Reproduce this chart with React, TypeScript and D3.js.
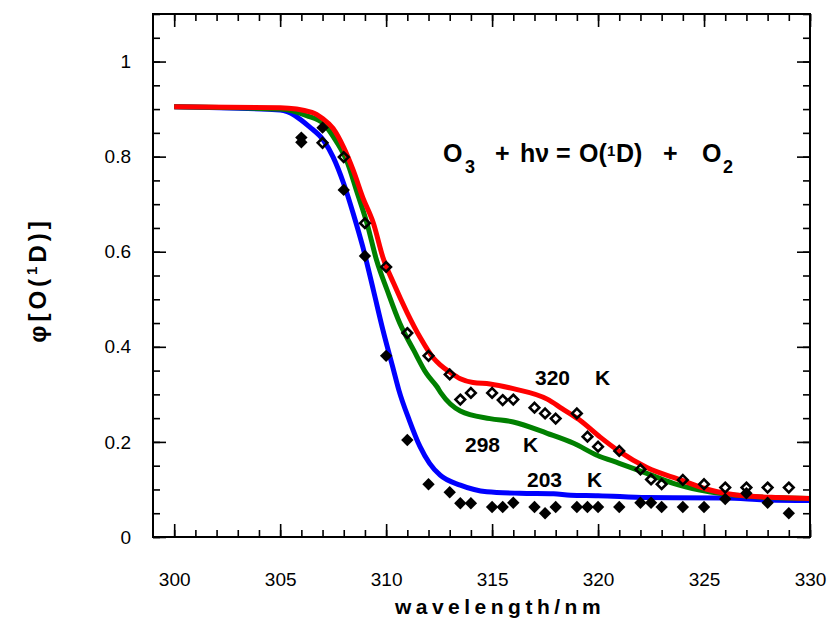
import React, { useEffect, useRef } from 'react';
import * as d3 from 'd3';

// quantum yield curves (model), wavelength in nm
const redX = [300, 305, 306.5, 307, 307.5, 308, 308.45, 308.9, 309.4, 309.85, 310.35, 311, 311.6, 312.2, 312.55, 313, 313.5, 314.1, 314.9, 316, 317.6, 318.3, 319.1, 320.1, 321, 322.3, 323.9, 325.1, 326.1, 327.1, 328.5, 330];
const redY = [0.905, 0.903, 0.893, 0.88, 0.859, 0.819, 0.771, 0.714, 0.66, 0.588, 0.534, 0.471, 0.42, 0.378, 0.362, 0.347, 0.333, 0.325, 0.322, 0.312, 0.29, 0.27, 0.247, 0.21, 0.18, 0.146, 0.12, 0.101, 0.091, 0.086, 0.083, 0.081];

const greenX = [300, 305, 306.25, 307.05, 307.65, 308.15, 308.6, 309.1, 309.55, 310.05, 310.65, 311.3, 311.9, 312.4, 312.6, 313.5, 314.9, 316, 317.6, 318.85, 319.95, 321, 322.3, 323.55, 324.8, 325.9, 327, 328, 330];
const greenY = [0.905, 0.9, 0.886, 0.869, 0.832, 0.79, 0.729, 0.659, 0.582, 0.519, 0.449, 0.393, 0.344, 0.316, 0.302, 0.265, 0.249, 0.242, 0.218, 0.197, 0.172, 0.155, 0.134, 0.113, 0.099, 0.091, 0.086, 0.083, 0.081];

const blueX = [300, 305, 306.4, 307.05, 307.5, 308, 308.45, 308.9, 309.4, 309.85, 310.35, 310.6, 311.1, 311.6, 312.05, 312.55, 313.5, 314.75, 316.3, 317.9, 318.7, 320, 322.3, 326, 328, 330];
const blueY = [0.905, 0.898, 0.862, 0.834, 0.799, 0.743, 0.68, 0.61, 0.519, 0.435, 0.351, 0.309, 0.245, 0.19, 0.155, 0.13, 0.109, 0.095, 0.092, 0.091, 0.088, 0.087, 0.083, 0.082, 0.078, 0.077];

// measurements: open diamonds and filled diamonds
const openX = [307, 308, 309, 310, 311, 312, 313, 313.5, 314, 315, 315.5, 316, 317, 317.5, 318, 319, 319.5, 320, 321, 322, 322.5, 323, 324, 325, 326, 327, 328, 329];
const openY = [0.829, 0.799, 0.66, 0.568, 0.429, 0.381, 0.342, 0.289, 0.303, 0.303, 0.288, 0.289, 0.272, 0.26, 0.249, 0.26, 0.211, 0.19, 0.181, 0.142, 0.121, 0.111, 0.12, 0.111, 0.104, 0.104, 0.104, 0.104];

const filledX = [306, 306, 307, 308, 309, 310, 311, 312, 313, 313.5, 314, 315, 315.5, 316, 317, 317.5, 318, 319, 319.5, 320, 321, 322, 322.5, 323, 324, 325, 326, 327, 328, 329];
const filledY = [0.84, 0.83, 0.861, 0.73, 0.591, 0.381, 0.204, 0.111, 0.094, 0.071, 0.071, 0.063, 0.063, 0.072, 0.063, 0.05, 0.063, 0.063, 0.063, 0.063, 0.063, 0.072, 0.072, 0.063, 0.063, 0.063, 0.08, 0.092, 0.072, 0.05];

const xMajor = [300, 305, 310, 315, 320, 325, 330];
const yMajor = [0, 0.2, 0.4, 0.6, 0.8, 1];

const FONT = "'Liberation Sans', Arial, sans-serif";

const App = () => {
  const svgRef = useRef<SVGSVGElement>(null);

  useEffect(() => {
    document.body.style.margin = '0';
    const width = 835;
    const height = 625;
    const margin = { top: 14, right: 25, bottom: 88, left: 153 };

    const svg = d3.select(svgRef.current)
      .attr('width', width)
      .attr('height', height);
    svg.selectAll('*').remove();

    const x = d3.scaleLinear().domain([299, 330]).range([margin.left, width - margin.right]);
    const y = d3.scaleLinear().domain([0, 1.1]).range([height - margin.bottom, margin.top]);

    const xMinor = d3.range(300, 331, 1);
    const yMinor = d3.range(0, 1.1001, 0.05);
    const bottom = height - margin.bottom;
    const right = width - margin.right;

    const tickAxis = (axis: any, tr: string) => {
      const g = svg.append('g').attr('transform', tr).call(axis);
      g.select('.domain').remove();
      g.selectAll('line').attr('stroke', '#000').attr('stroke-width', 1.6);
      return g;
    };

    // ticks, all pointing inward
    tickAxis(d3.axisBottom(x).tickValues(xMinor).tickSize(-7).tickFormat(() => ''), `translate(0,${bottom})`);
    tickAxis(d3.axisBottom(x).tickValues(xMajor).tickSize(-13).tickFormat(() => ''), `translate(0,${bottom})`);
    tickAxis(d3.axisTop(x).tickValues(xMinor).tickSize(-7).tickFormat(() => ''), `translate(0,${margin.top})`);
    tickAxis(d3.axisTop(x).tickValues(xMajor).tickSize(-13).tickFormat(() => ''), `translate(0,${margin.top})`);
    tickAxis(d3.axisLeft(y).tickValues(yMinor).tickSize(-7).tickFormat(() => ''), `translate(${margin.left},0)`);
    tickAxis(d3.axisLeft(y).tickValues(yMajor).tickSize(-13).tickFormat(() => ''), `translate(${margin.left},0)`);
    tickAxis(d3.axisRight(y).tickValues(yMinor).tickSize(-7).tickFormat(() => ''), `translate(${right},0)`);
    tickAxis(d3.axisRight(y).tickValues(yMajor).tickSize(-13).tickFormat(() => ''), `translate(${right},0)`);

    // tick labels
    const xl = svg.append('g')
      .attr('transform', `translate(0,${bottom})`)
      .call(d3.axisBottom(x).tickValues(xMajor).tickSize(0).tickPadding(36).tickFormat(d3.format('d')));
    xl.select('.domain').remove();
    xl.attr('font-family', FONT).attr('font-size', 19);

    const yl = svg.append('g')
      .attr('transform', `translate(${margin.left},0)`)
      .call(d3.axisLeft(y).tickValues(yMajor).tickSize(0).tickPadding(22)
        .tickFormat((d: any) => (d === 0 || d === 1 ? String(d) : d3.format('.1f')(d))));
    yl.select('.domain').remove();
    yl.attr('font-family', FONT).attr('font-size', 19);

    // curves
    const line = d3.line<[number, number]>()
      .x(d => x(d[0]))
      .y(d => y(d[1]))
      .curve(d3.curveMonotoneX);

    const series = [
      { xs: blueX, ys: blueY, color: '#0000ff' },
      { xs: greenX, ys: greenY, color: '#008000' },
      { xs: redX, ys: redY, color: '#ff0000' },
    ];
    series.forEach(s => {
      svg.append('path')
        .datum(s.xs.map((v, i) => [v, s.ys[i]] as [number, number]))
        .attr('fill', 'none')
        .attr('stroke', s.color)
        .attr('stroke-width', 5)
        .attr('stroke-linejoin', 'round')
        .attr('d', line);
    });

    const diamond = (r: number) => `M0,${-r}L${r},0L0,${r}L${-r},0Z`;

    svg.append('g').selectAll('path')
      .data(openX.map((v, i) => [v, openY[i]]))
      .enter()
      .append('path')
      .attr('transform', d => `translate(${x(d[0])},${y(d[1])})`)
      .attr('d', diamond(4.8))
      .attr('fill', 'none')
      .attr('stroke', '#000')
      .attr('stroke-width', 2.6);

    svg.append('g').selectAll('path')
      .data(filledX.map((v, i) => [v, filledY[i]]))
      .enter()
      .append('path')
      .attr('transform', d => `translate(${x(d[0])},${y(d[1])})`)
      .attr('d', diamond(6.2))
      .attr('fill', '#000');

    // frame
    svg.append('rect')
      .attr('x', margin.left)
      .attr('y', margin.top)
      .attr('width', right - margin.left)
      .attr('height', bottom - margin.top)
      .attr('fill', 'none')
      .attr('stroke', '#000')
      .attr('stroke-width', 2);

    // equation
    const eq = svg.append('text')
      .attr('font-family', FONT)
      .attr('font-weight', 'bold')
      .attr('font-size', 25)
      .attr('y', 162);
    eq.append('tspan').attr('x', 443).text('O');
    eq.append('tspan').attr('x', 465).attr('dy', 11).attr('font-size', 18).text('3');
    eq.append('tspan').attr('x', 495).attr('dy', -11).text('+');
    eq.append('tspan').attr('x', 520).text('hν');
    eq.append('tspan').attr('x', 556).text('=');
    eq.append('tspan').attr('x', 579).text('O(');
    eq.append('tspan').attr('x', 607).attr('dy', -6).attr('font-size', 15).text('1');
    eq.append('tspan').attr('x', 616).attr('dy', 6).text('D)');
    eq.append('tspan').attr('x', 663).text('+');
    eq.append('tspan').attr('x', 702).text('O');
    eq.append('tspan').attr('x', 723).attr('dy', 11).attr('font-size', 18).text('2');

    // temperature labels
    const labels = [
      { t: '320', k: 595, x0: 535, yb: 385 },
      { t: '298', k: 523, x0: 465, yb: 452 },
      { t: '203', k: 587, x0: 527, yb: 487 },
    ];
    labels.forEach(l => {
      const t = svg.append('text')
        .attr('font-family', FONT)
        .attr('font-weight', 'bold')
        .attr('font-size', 21)
        .attr('y', l.yb);
      t.append('tspan').attr('x', l.x0).text(l.t);
      t.append('tspan').attr('x', l.k).text('K');
    });

    // axis titles
    svg.append('text')
      .attr('x', 500)
      .attr('y', 614)
      .attr('text-anchor', 'middle')
      .attr('font-family', FONT)
      .attr('font-weight', 'bold')
      .attr('font-size', 21)
      .attr('letter-spacing', 4.5)
      .text('wavelength/nm');

    const yt = svg.append('text')
      .attr('transform', 'translate(46,280) rotate(-90)')
      .attr('text-anchor', 'middle')
      .attr('font-family', FONT)
      .attr('font-weight', 'bold')
      .attr('font-size', 24)
      .attr('letter-spacing', 4);
    yt.append('tspan').text('φ[O(');
    yt.append('tspan').attr('dy', -9).attr('font-size', 15).text('1');
    yt.append('tspan').attr('dy', 9).text('D)]');
  }, []);

  return <svg ref={svgRef} style={{ display: 'block' }}></svg>;
};

export default App;
